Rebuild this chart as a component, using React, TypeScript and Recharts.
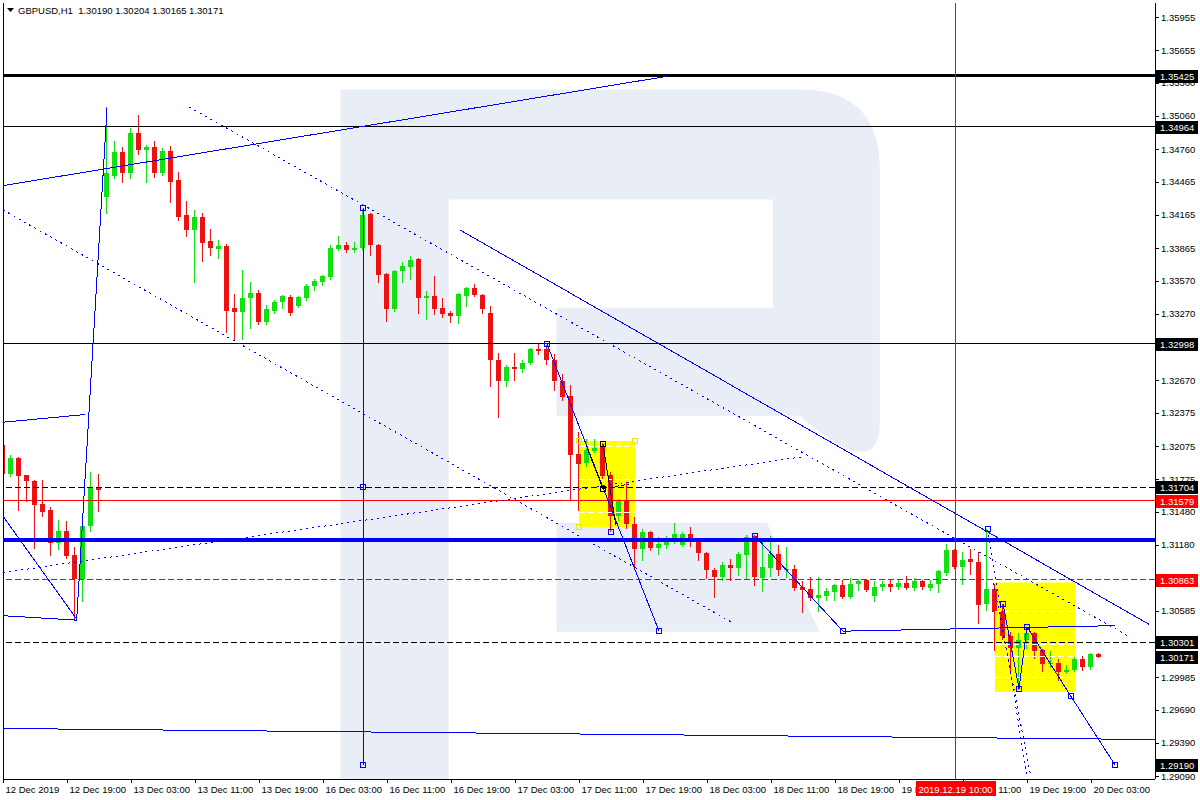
import React from "react";
import {
  ComposedChart,
  Bar,
  XAxis,
  YAxis,
  ReferenceLine,
  ReferenceArea,
  ReferenceDot,
} from "recharts";

// GBPUSD H1, bar 0 = 12 Dec 11:00
const OPEN = [
  1.3208, 1.3182, 1.3197, 1.3181, 1.3176, 1.3155, 1.315, 1.312, 1.3131, 1.3109,
  1.3087, 1.3135, 1.317, 1.3433, 1.3452, 1.3473, 1.3454, 1.3491, 1.3475, 1.3478,
  1.3454, 1.3474, 1.3448, 1.3416, 1.3403, 1.3415, 1.3393, 1.3386, 1.3388, 1.3332,
  1.3329, 1.3341, 1.3346, 1.332, 1.333, 1.3338, 1.3342, 1.3334, 1.3341, 1.3352,
  1.3356, 1.336, 1.3386, 1.3389, 1.3385, 1.3387, 1.3417, 1.3389, 1.3363, 1.3331,
  1.3366, 1.3369, 1.3377, 1.3341, 1.3343, 1.3332, 1.3328, 1.3325, 1.3343, 1.335,
  1.3344, 1.3328, 1.3285, 1.3266, 1.3279, 1.3277, 1.3283, 1.3295, 1.3295, 1.3285,
  1.3266, 1.3253, 1.32, 1.3192, 1.3203, 1.3207, 1.3181, 1.3144, 1.3159, 1.3137,
  1.3114, 1.313, 1.3115, 1.3118, 1.3122, 1.3118, 1.3128, 1.3121, 1.3111, 1.3095,
  1.3089, 1.31, 1.3097, 1.3109, 1.3126, 1.3088, 1.3097, 1.311, 1.3095, 1.3096,
  1.308, 1.3078, 1.307, 1.3072, 1.3075, 1.3082, 1.3071, 1.3083, 1.3086, 1.3072,
  1.308, 1.3083, 1.308, 1.3084, 1.3079, 1.3085, 1.3079, 1.3083, 1.3093, 1.3113,
  1.3098, 1.3105, 1.3103, 1.3065, 1.3078, 1.3058, 1.3036, 1.3025, 1.3032, 1.3038,
  1.3023, 1.301, 1.3011, 1.3003, 1.3005, 1.3015, 1.3008, 1.3019,
];
const HIGH = [
  1.3213, 1.3199, 1.3198, 1.3181, 1.3177, 1.3177, 1.3152, 1.3141, 1.314, 1.3116,
  1.3141, 1.3184, 1.3182, 1.3514, 1.3483, 1.3478, 1.3495, 1.3507, 1.348, 1.3483,
  1.3477, 1.3479, 1.3455, 1.3429, 1.3421, 1.3418, 1.3404, 1.3394, 1.339, 1.3345,
  1.3367, 1.3356, 1.3349, 1.3335, 1.334, 1.3344, 1.3344, 1.3343, 1.3354, 1.3359,
  1.3362, 1.3389, 1.3397, 1.3392, 1.3392, 1.3422, 1.3418, 1.339, 1.3364, 1.3367,
  1.3374, 1.3379, 1.3378, 1.3348, 1.3361, 1.3341, 1.333, 1.3346, 1.3351, 1.3354,
  1.3345, 1.3334, 1.3292, 1.3281, 1.3292, 1.3285, 1.3296, 1.33, 1.3299, 1.3291,
  1.3273, 1.3263, 1.322, 1.3214, 1.3214, 1.321, 1.3184, 1.316, 1.3175, 1.3143,
  1.3132, 1.3131, 1.3125, 1.3126, 1.3138, 1.313, 1.3134, 1.3122, 1.3112, 1.3097,
  1.3103, 1.3105, 1.3112, 1.3127, 1.3127, 1.3121, 1.3126, 1.3118, 1.3116, 1.31,
  1.3085, 1.3089, 1.3089, 1.3079, 1.3083, 1.3086, 1.3088, 1.3087, 1.3087, 1.3085,
  1.3085, 1.3086, 1.3087, 1.309, 1.3088, 1.3086, 1.3086, 1.3095, 1.3119, 1.3114,
  1.3112, 1.3114, 1.3112, 1.3132, 1.3083, 1.3065, 1.3039, 1.3038, 1.3044, 1.3039,
  1.3024, 1.3022, 1.3015, 1.3009, 1.3017, 1.3018, 1.302, 1.30204,
];
const LOW = [
  1.3182, 1.318, 1.315, 1.3158, 1.3115, 1.3144, 1.3109, 1.3114, 1.3106, 1.305,
  1.3067, 1.3131, 1.3149, 1.3418, 1.345, 1.3446, 1.345, 1.3472, 1.3446, 1.3451,
  1.3453, 1.3428, 1.3412, 1.3397, 1.3356, 1.3375, 1.338, 1.3378, 1.3311, 1.3304,
  1.3304, 1.3314, 1.3318, 1.3318, 1.3328, 1.3332, 1.3326, 1.3333, 1.334, 1.3349,
  1.3353, 1.3359, 1.3385, 1.3383, 1.3383, 1.3385, 1.338, 1.3356, 1.3321, 1.333,
  1.3356, 1.3359, 1.3328, 1.3322, 1.3327, 1.3324, 1.332, 1.3319, 1.3334, 1.3343,
  1.3328, 1.3262, 1.3234, 1.3262, 1.3267, 1.3274, 1.3282, 1.3291, 1.3282, 1.3258,
  1.3249, 1.316, 1.315, 1.3189, 1.3202, 1.3178, 1.3131, 1.3141, 1.3133, 1.3098,
  1.3104, 1.3113, 1.311, 1.3115, 1.312, 1.3117, 1.3117, 1.3104, 1.3088, 1.3071,
  1.3086, 1.3086, 1.3091, 1.3088, 1.3082, 1.3076, 1.309, 1.3091, 1.3089, 1.3077,
  1.3057, 1.3068, 1.3058, 1.3068, 1.3068, 1.307, 1.307, 1.3077, 1.3076, 1.3067,
  1.3077, 1.3076, 1.3078, 1.3078, 1.3077, 1.3078, 1.3077, 1.3075, 1.3091, 1.3097,
  1.3083, 1.3092, 1.3047, 1.3059, 1.3023, 1.3033, 1.3004, 1.2988, 1.3025, 1.3016,
  1.3004, 1.3008, 1.2996, 1.3002, 1.3004, 1.3005, 1.3006, 1.30165,
];
const CLOSE = [
  1.3182, 1.3197, 1.318, 1.3176, 1.3154, 1.3148, 1.312, 1.3131, 1.3108, 1.3087,
  1.3135, 1.317, 1.3168, 1.3454, 1.3473, 1.3454, 1.3491, 1.3475, 1.3478, 1.3454,
  1.3474, 1.3446, 1.3415, 1.3403, 1.3415, 1.3391, 1.3387, 1.3388, 1.333, 1.3329,
  1.3341, 1.3346, 1.332, 1.3331, 1.3338, 1.3343, 1.3328, 1.3342, 1.3352, 1.3357,
  1.3361, 1.3387, 1.3389, 1.3385, 1.3387, 1.3416, 1.3389, 1.3362, 1.3331, 1.3366,
  1.337, 1.3376, 1.3341, 1.3343, 1.3331, 1.3327, 1.3325, 1.3345, 1.335, 1.3344,
  1.3331, 1.3285, 1.3266, 1.3279, 1.3277, 1.3283, 1.3295, 1.3293, 1.3285, 1.3266,
  1.3252, 1.3199, 1.3191, 1.3204, 1.3206, 1.318, 1.3144, 1.3159, 1.3137, 1.3114,
  1.313, 1.3115, 1.3119, 1.3123, 1.3128, 1.3128, 1.3121, 1.3111, 1.3095, 1.3089,
  1.31, 1.3097, 1.311, 1.3125, 1.3089, 1.3098, 1.311, 1.3095, 1.3096, 1.3079,
  1.3077, 1.307, 1.3073, 1.3076, 1.3082, 1.3071, 1.3083, 1.3085, 1.3077, 1.308,
  1.3083, 1.308, 1.3084, 1.3079, 1.3085, 1.308, 1.3083, 1.3094, 1.3113, 1.3098,
  1.3104, 1.3103, 1.3064, 1.3078, 1.3057, 1.3036, 1.3025, 1.3032, 1.3038, 1.3022,
  1.301, 1.3011, 1.3003, 1.3005, 1.3015, 1.3008, 1.3019, 1.30171,
];

const TIME_TICKS = [0, 8, 16, 24, 32, 40, 48, 56, 64, 72, 80, 88, 96, 104, 112, 120, 128, 136];
const TIME_LABELS = [
  "12 Dec 2019", "12 Dec 19:00", "13 Dec 03:00", "13 Dec 11:00", "13 Dec 19:00",
  "16 Dec 03:00", "16 Dec 11:00", "16 Dec 19:00", "17 Dec 03:00", "17 Dec 11:00",
  "17 Dec 19:00", "18 Dec 03:00", "18 Dec 11:00", "18 Dec 19:00", "19 Dec 03:00",
  "19 Dec 11:00", "19 Dec 19:00", "20 Dec 03:00",
];
const PRICE_TICKS = [
  1.35955, 1.35655, 1.3536, 1.3506, 1.3476, 1.34465, 1.34165, 1.33865, 1.3357, 1.3327,
  1.3297, 1.3267, 1.32375, 1.32075, 1.31775, 1.3148, 1.3118, 1.3088, 1.30585, 1.30285,
  1.29985, 1.2969, 1.2939, 1.2909,
];

// horizontal levels drawn on the chart
const LEVEL_PRICES = [1.35425, 1.34964, 1.32998, 1.31704, 1.31579, 1.31225, 1.30863, 1.30301];
const LEVEL_LOOK = [
  { stroke: "#000", width: 3, dash: undefined },
  { stroke: "#000", width: 1, dash: undefined },
  { stroke: "#000", width: 1, dash: undefined },
  { stroke: "#000", width: 1, dash: "6 3" },
  { stroke: "#ff0000", width: 1, dash: undefined },
  { stroke: "#0000ff", width: 4, dash: undefined },
  { stroke: "#ff0000", width: 1, dash: "6 3" },
  { stroke: "#000", width: 1, dash: "6 3" },
];

// price tags on the right scale (drawn last, over the tick labels)
const TAG_PRICES = [1.35425, 1.34964, 1.32998, 1.31704, 1.31579, 1.30863, 1.30301, 1.30171, 1.2919];
const RED_TAGS = [1.31579, 1.30863];

// trendlines: [bar1, price1, bar2, price2]
const SOLID_LINES = [
  [0, 1.3443, 83.1, 1.3542],
  [9.2, 1.3049, 13, 1.3513],
  [0, 1.3229, 10.3, 1.3236],
  [0, 1.3054, 9.2, 1.305],
  [0, 1.3144, 9.2, 1.3051],
  [57.1, 1.3403, 143.3, 1.3046],
  [68, 1.32998, 82, 1.304],
  [94, 1.3126, 105, 1.304],
  [105, 1.304, 139, 1.3045],
  [125, 1.3065, 127, 1.2988],
  [127, 1.2988, 128, 1.3044],
  [128, 1.3044, 133.5, 1.2981],
  [133.5, 1.2981, 139, 1.2919],
  [0, 1.2952, 144, 1.2942],
  [45, 1.3423, 45, 1.2919],
];
const DOTTED_LINES = [
  [0, 1.3421, 91.1, 1.3048],
  [23.3, 1.3514, 140.8, 1.3035],
  [0, 1.3093, 100.2, 1.3198],
  [123.1, 1.3132, 128, 1.2908],
  [123.8, 1.3084, 128.5, 1.2908],
];
const BLACK_LINES = [
  [73, 1.3206, 75, 1.3169],
  [75, 1.3209, 76.6, 1.3136],
];
const BLACK_DASHED = [[75, 1.3169, 78.3, 1.3173]];

// yellow boxes: [bar1, price1, bar2, price2] and their inner levels
const BOXES = [
  [72, 1.3212, 79, 1.3134],
  [124, 1.3084, 134, 1.2985],
];
const BOX_LEVELS = [
  [1.3207, 1.3177, 1.3147],
  [1.3058, 1.3028, 1.3017, 1.2998],
];

const BLUE_MARKS = [
  [45, 1.3423], [45, 1.317], [45, 1.2919], [68, 1.32998], [82, 1.304], [76, 1.313],
  [94, 1.3126], [105, 1.304], [123.1, 1.3132], [125, 1.3065], [127, 1.2988],
  [128, 1.3044], [133.5, 1.2981], [139, 1.2919],
];
const BLACK_MARKS = [[75, 1.3209], [75, 1.3169]];
const YELLOW_MARKS = [[72, 1.3212], [79, 1.3212], [72, 1.3134]];

const Y_MIN = 1.29063;
const Y_MAX = 1.36082;
const X_MAX = 144;
const VLINE_BAR = 119;
const VLINE_LABEL = "2019.12.19 10:00";
const WATERMARK = [42.2, 1.353, 109.6, Y_MIN];

const BULL = "#12e012";
const BEAR = "#ee1111";
const BLUE = "#0000ff";
const FONT = "'Liberation Sans', Arial, sans-serif";

const candles = OPEN.map((o, i) => ({
  t: i,
  open: o,
  high: HIGH[i],
  low: LOW[i],
  close: CLOSE[i],
  range: [LOW[i], HIGH[i]],
}));

const Candle = (props: any) => {
  const { x, y, width, height, payload } = props;
  if (x == null || y == null) return null;
  const { open, close, high, low } = payload;
  const color = close > open ? BULL : BEAR;
  const top = Math.min(y, y + height);
  const bottom = Math.max(y, y + height);
  const span = high - low;
  const toY = (v: number) => (span === 0 ? top : top + ((high - v) / span) * (bottom - top));
  const cx = Math.floor(x + width / 2) + 0.5;
  const bTop = Math.round(toY(Math.max(open, close)));
  const bBot = Math.round(toY(Math.min(open, close)));
  return (
    <g>
      <line x1={cx} x2={cx} y1={Math.round(top)} y2={Math.round(bottom) + 1} stroke={color} />
      <rect x={cx - 2.5} y={bTop} width={5} height={Math.max(1, bBot - bTop)} fill={color} />
    </g>
  );
};

const TimeTick = (props: any) => {
  const { x, y, payload } = props;
  const px = Math.round(x) + 0.5;
  if (payload.value === VLINE_BAR) {
    return (
      <g>
        <rect x={px - 40} y={y + 2} width={80} height={15} fill="#ff0000" />
        <text x={px} y={y + 13.5} textAnchor="middle" fontSize={9.5} fontFamily={FONT} fill="#fff">
          {VLINE_LABEL}
        </text>
      </g>
    );
  }
  const idx = TIME_TICKS.indexOf(payload.value);
  return (
    <g>
      <line x1={px} x2={px} y1={y} y2={y + 4} stroke="#000" />
      <text x={px + 2} y={y + 14} fontSize={9.5} fontFamily={FONT} fill="#000">
        {TIME_LABELS[idx]}
      </text>
    </g>
  );
};

const PriceTick = (props: any) => {
  const { x, y, payload } = props;
  const py = Math.round(y) + 0.5;
  const v = payload.value;
  if (TAG_PRICES.includes(v)) {
    const ly = Math.round(y);
    return (
      <g>
        <rect x={x + 1} y={ly - 6} width={42} height={13} fill={RED_TAGS.includes(v) ? "#ff0000" : "#000"} />
        <text x={x + 5} y={ly + 4} fontSize={9.5} fontFamily={FONT} fill="#fff">
          {v.toFixed(5)}
        </text>
      </g>
    );
  }
  return (
    <g>
      <line x1={x} x2={x + 4} y1={py} y2={py} stroke="#000" />
      <text x={x + 6} y={y + 3.5} fontSize={9.5} fontFamily={FONT} fill="#000">
        {v.toFixed(5)}
      </text>
    </g>
  );
};

// "R" logo watermark, relative to its box
const LogoShape = (props: any) => {
  const { x, y, width, height } = props;
  const p = (fx: number, fy: number) => `${x + fx * width},${y + fy * height}`;
  const d =
    `M${p(0, 0)} L${p(0.8516, 0)} Q${p(1, 0)} ${p(1, 0.1161)} L${p(1, 0.4819)} ` +
    `Q${p(1, 0.5732)} ${p(0.8516, 0.4731)} L${p(0.4007, 0.4731)} L${p(0.4007, 0.3164)} ` +
    `L${p(0.8015, 0.3164)} L${p(0.8015, 0.1597)} L${p(0.2004, 0.1597)} L${p(0.2004, 1)} L${p(0, 1)} Z ` +
    `M${p(0.4007, 0.6284)} L${p(0.7904, 0.6284)} L${p(0.8887, 0.7866)} L${p(0.4007, 0.7866)} Z`;
  return <path d={d} fill="#e9edf5" stroke="none" />;
};

const Square = (color: string) => (props: any) => (
  <rect x={Math.round(props.cx) - 2.5} y={Math.round(props.cy) - 2.5} width={5} height={5} fill="none" stroke={color} />
);

const seg = (l: number[]) => [
  { x: l[0], y: l[1] },
  { x: l[2], y: l[3] },
];

export default function App() {
  const last = OPEN.length - 1;
  const header = `${OPEN[last].toFixed(5)} ${HIGH[last].toFixed(5)} ${LOW[last].toFixed(5)} ${CLOSE[last].toFixed(5)}`;
  return (
    <div style={{ position: "absolute", left: 0, top: 0, width: 1200, height: 800, background: "#fff" }}>
      <style>{`.mt4 svg line, .mt4 svg rect { shape-rendering: crispEdges; }`}</style>
      <div className="mt4">
        <ComposedChart
          width={1200}
          height={800}
          data={candles}
          margin={{ top: 3, right: 0, bottom: 0, left: 3 }}
        >
          <XAxis
            dataKey="t"
            type="number"
            domain={[0, X_MAX]}
            allowDataOverflow
            ticks={[...TIME_TICKS, VLINE_BAR]}
            interval={0}
            tick={<TimeTick />}
            tickLine={false}
            tickSize={0}
            tickMargin={0}
            height={21}
            axisLine={{ stroke: "#000" }}
          />
          <YAxis
            orientation="right"
            type="number"
            domain={[Y_MIN, Y_MAX]}
            allowDataOverflow
            ticks={[...PRICE_TICKS, ...TAG_PRICES]}
            interval={0}
            tick={<PriceTick />}
            tickLine={false}
            tickSize={0}
            tickMargin={0}
            width={45}
            axisLine={{ stroke: "#000" }}
          />

          <ReferenceArea
            x1={WATERMARK[0]}
            x2={WATERMARK[2]}
            y1={WATERMARK[1]}
            y2={WATERMARK[3]}
            shape={(p: any) => <LogoShape {...p} />}
          />
          {BOXES.map((b, i) => (
            <ReferenceArea key={`box${i}`} x1={b[0]} x2={b[2]} y1={b[1]} y2={b[3]} fill="#ffff00" fillOpacity={1} stroke="none" />
          ))}
          {BOXES.map((b, i) =>
            BOX_LEVELS[i].map((lv, j) => (
              <ReferenceLine
                key={`bl${i}-${j}`}
                segment={[{ x: b[0], y: lv }, { x: b[2], y: lv }]}
                stroke="#ffffff"
                strokeDasharray="6 3"
                ifOverflow="hidden"
              />
            ))
          )}

          <Bar dataKey="range" barSize={5} isAnimationActive={false} shape={(p: any) => <Candle {...p} />} />

          <ReferenceLine x={0} stroke="#000" />
          {LEVEL_PRICES.map((lv, i) => (
            <ReferenceLine
              key={`lv${i}`}
              y={lv}
              stroke={LEVEL_LOOK[i].stroke}
              strokeWidth={LEVEL_LOOK[i].width}
              strokeDasharray={LEVEL_LOOK[i].dash}
            />
          ))}
          {SOLID_LINES.map((l, i) => (
            <ReferenceLine key={`s${i}`} segment={seg(l)} stroke={BLUE} ifOverflow="hidden" />
          ))}
          {DOTTED_LINES.map((l, i) => (
            <ReferenceLine key={`d${i}`} segment={seg(l)} stroke={BLUE} strokeDasharray="2 4" ifOverflow="hidden" />
          ))}
          {BLACK_LINES.map((l, i) => (
            <ReferenceLine key={`k${i}`} segment={seg(l)} stroke="#000" ifOverflow="hidden" />
          ))}
          {BLACK_DASHED.map((l, i) => (
            <ReferenceLine key={`kd${i}`} segment={seg(l)} stroke="#000" strokeDasharray="4 2" ifOverflow="hidden" />
          ))}
          <ReferenceLine x={VLINE_BAR} stroke="#ff0000" />

          {BLUE_MARKS.map((m, i) => (
            <ReferenceDot key={`bm${i}`} x={m[0]} y={m[1]} r={3} ifOverflow="visible" shape={Square(BLUE)} />
          ))}
          {BLACK_MARKS.map((m, i) => (
            <ReferenceDot key={`km${i}`} x={m[0]} y={m[1]} r={3} ifOverflow="visible" shape={Square("#000")} />
          ))}
          {YELLOW_MARKS.map((m, i) => (
            <ReferenceDot key={`ym${i}`} x={m[0]} y={m[1]} r={3} ifOverflow="visible" shape={Square("#e8e800")} />
          ))}
        </ComposedChart>
      </div>
      <svg style={{ position: "absolute", left: 7, top: 8 }} width={8} height={6}>
        <polygon points="0,0 7,0 3.5,4" fill="#000" />
      </svg>
      <div
        style={{
          position: "absolute",
          left: 18,
          top: 5,
          fontFamily: FONT,
          fontSize: 9.5,
          lineHeight: "12px",
          color: "#000",
          whiteSpace: "pre",
        }}
      >
        {`GBPUSD,H1  ${header}`}
      </div>
    </div>
  );
}
